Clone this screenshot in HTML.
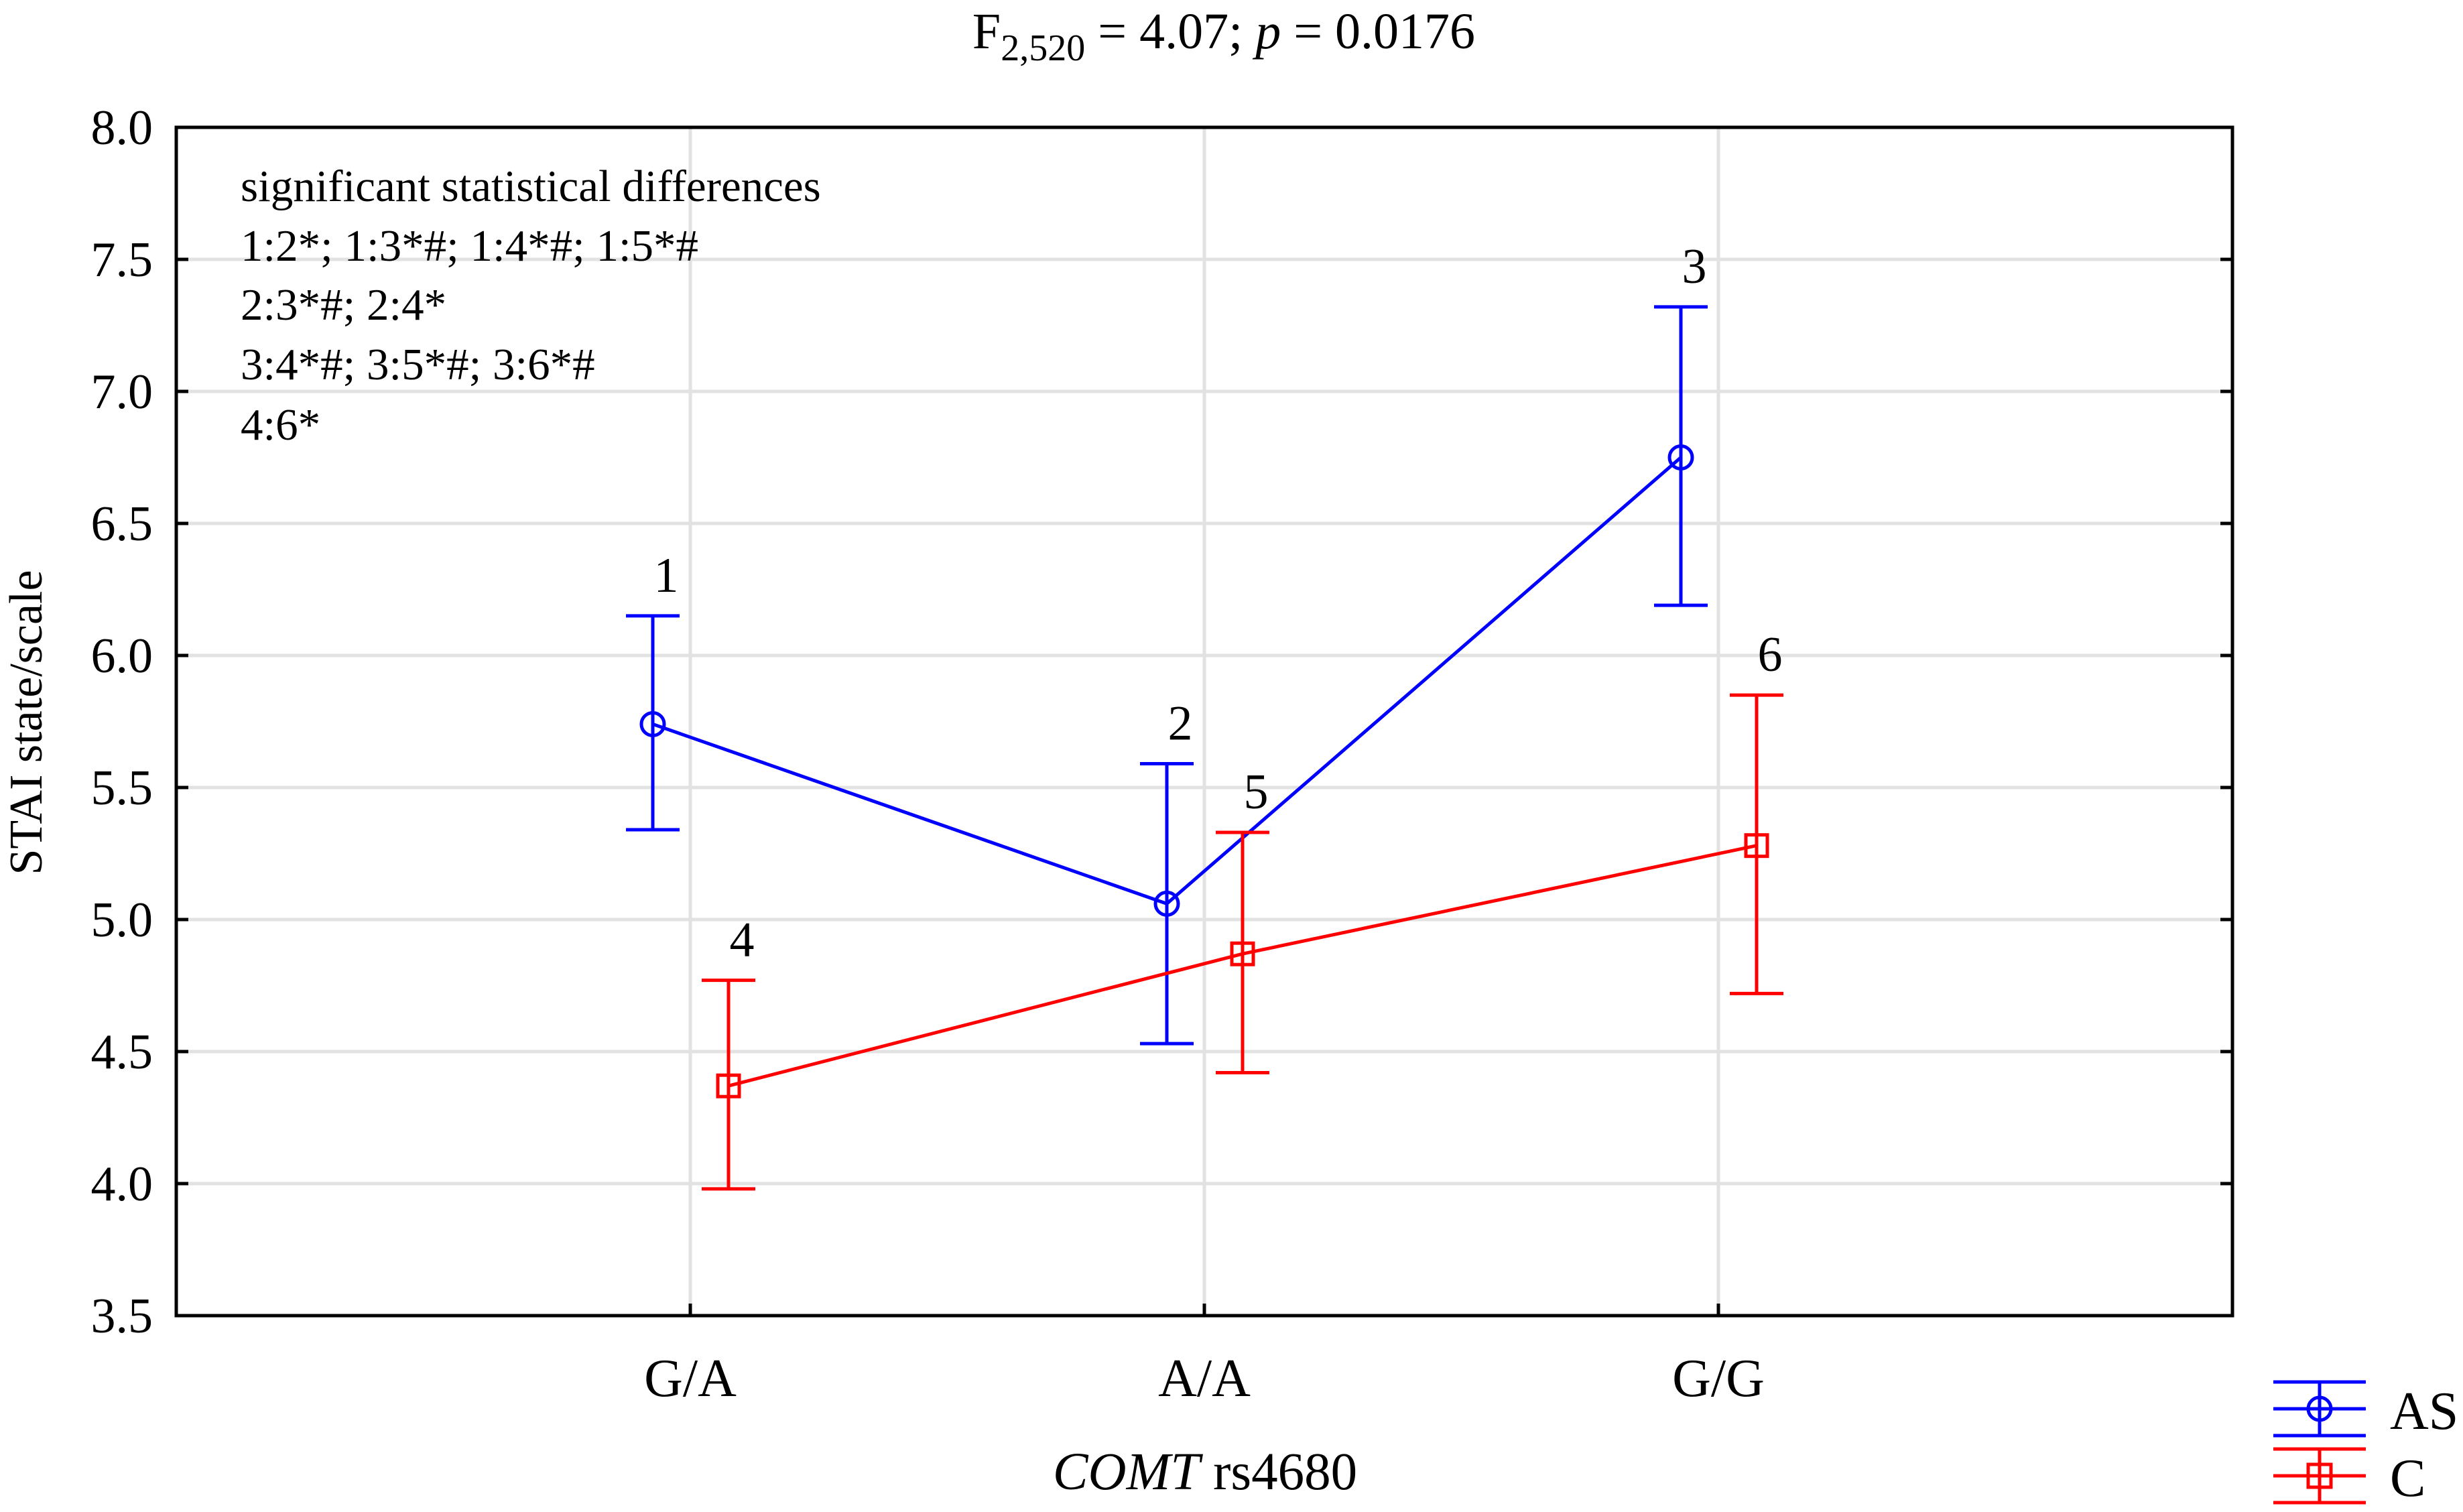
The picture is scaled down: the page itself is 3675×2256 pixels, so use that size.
<!DOCTYPE html>
<html><head><meta charset="utf-8"><style>
html,body{margin:0;padding:0;background:#fff;}
svg{display:block;}
svg text{font-family:"Liberation Serif","DejaVu Serif",serif;}
</style></head><body>
<svg id="chart" width="3675" height="2256" viewBox="0 0 3675 2256" xmlns="http://www.w3.org/2000/svg">
<g id="grid"></g>
<rect x="263" y="190" width="3068" height="1773" fill="none" stroke="#000" stroke-width="5"/>
<g id="axes"></g>
<g id="series"></g>
<text x="1826" y="72" font-size="76" text-anchor="middle">F<tspan font-size="56" dy="18">2,520</tspan><tspan dy="-18"> = 4.07; </tspan><tspan font-style="italic">p</tspan> = 0.0176</text>
<text x="1798" y="2222" font-size="79" text-anchor="middle"><tspan font-style="italic">COMT</tspan> rs4680</text>
<text transform="translate(62,1078) rotate(-90)" font-size="70" text-anchor="middle">STAI state/scale</text>
<g font-size="67">
<text x="359" y="300">significant statistical differences</text>
<text x="359" y="389">1:2*; 1:3*#; 1:4*#; 1:5*#</text>
<text x="359" y="477">2:3*#; 2:4*</text>
<text x="359" y="566">3:4*#; 3:5*#; 3:6*#</text>
<text x="359" y="656">4:6*</text>
</g>
<g>
<g stroke="#0000ff" stroke-width="5">
<line x1="3392" y1="2062" x2="3530" y2="2062"/><line x1="3392" y1="2102" x2="3530" y2="2102"/><line x1="3392" y1="2142" x2="3530" y2="2142"/>
<line x1="3461" y1="2062" x2="3461" y2="2142"/><circle cx="3461" cy="2102" r="17" fill="none"/>
</g>
<text x="3566" y="2132" font-size="80">AS</text>
<g stroke="#ff0000" stroke-width="5">
<line x1="3392" y1="2162" x2="3530" y2="2162"/><line x1="3392" y1="2202" x2="3530" y2="2202"/><line x1="3392" y1="2242" x2="3530" y2="2242"/>
<line x1="3461" y1="2162" x2="3461" y2="2242"/><rect x="3444" y="2185" width="34" height="34" fill="none"/>
</g>
<text x="3566" y="2232" font-size="80">C</text>
</g>
</svg>
<script>
const categories = ["G/A","A/A","G/G"];
const yTicks = [3.5,4.0,4.5,5.0,5.5,6.0,6.5,7.0,7.5,8.0];
const asMean = [5.74,5.06,6.75];
const asLow = [5.34,4.53,6.19];
const asHigh = [6.15,5.59,7.32];
const asLabels = ["1","2","3"];
const cMean = [4.37,4.87,5.28];
const cLow = [3.98,4.42,4.72];
const cHigh = [4.77,5.33,5.85];
const cLabels = ["4","5","6"];

const NS="http://www.w3.org/2000/svg";
const L=263,R=3331,T=190,B=1963;
function xs(i){return L+(i+1)*(R-L)/4;}
function ys(v){return B-(v-3.5)/(8-3.5)*(B-T);}
function mk(tag,attrs,parent){const e=document.createElementNS(NS,tag);for(const k in attrs)e.setAttribute(k,attrs[k]);parent.appendChild(e);return e;}
const grid=document.getElementById('grid'),axes=document.getElementById('axes'),series=document.getElementById('series');
yTicks.forEach(v=>{
  const y=ys(v);
  if(v>3.5&&v<8){const g=mk('line',{x1:L,x2:R,y1:y,y2:y,stroke:'#e2e2e2','stroke-width':5},grid);
  
  }
  const t1=mk('line',{x1:L,x2:L+18,y1:y,y2:y,stroke:'#000','stroke-width':5},axes);
  
  
  const t2=mk('line',{x1:R-18,x2:R,y1:y,y2:y,stroke:'#000','stroke-width':5},axes);
  
  
  const tl=mk('text',{x:228,y:y+25,'font-size':74,'text-anchor':'end'},axes);
  tl.textContent=v.toFixed(1);
  
  
});
categories.forEach((c,i)=>{
  const x=xs(i);
  const g=mk('line',{x1:x,x2:x,y1:T,y2:B,stroke:'#e2e2e2','stroke-width':5},grid);
  
  
  const t=mk('line',{x1:x,x2:x,y1:B-18,y2:B,stroke:'#000','stroke-width':5},axes);
  
  
  const tl=mk('text',{x:x,y:2083,'font-size':80,'text-anchor':'middle'},axes);
  tl.textContent=c;
  
  
});
function drawSeries(mean,low,high,labels,off,color,marker,name){
  const g=mk('g',{},series);
  
  
  const pts=mean.map((m,i)=>(xs(i)+off)+','+ys(m)).join(' ');
  const pl=mk('polyline',{points:pts,fill:'none',stroke:color,'stroke-width':5},g);
  
  
  mean.forEach((m,i)=>{
    const x=xs(i)+off;
    const eb=mk('path',{d:`M${x-40},${ys(high[i])}H${x+40}M${x},${ys(high[i])}V${ys(low[i])}M${x-40},${ys(low[i])}H${x+40}`,stroke:color,'stroke-width':5,fill:'none'},g);
    
    
    let p;
    if(marker==='circle') p=mk('circle',{cx:x,cy:ys(m),r:17,fill:'none',stroke:color,'stroke-width':5},g);
    else p=mk('rect',{x:x-16,y:ys(m)-16,width:32,height:32,fill:'none',stroke:color,'stroke-width':5},g);
    
    
    const lb=mk('text',{x:x+20,y:ys(high[i])-36,'font-size':74,'text-anchor':'middle'},g);
    lb.textContent=labels[i];
    
    
  });
}
drawSeries(asMean,asLow,asHigh,asLabels,-56,'#0000ff','circle','as');
drawSeries(cMean,cLow,cHigh,cLabels,57,'#ff0000','square','c');
</script>
</body></html>
